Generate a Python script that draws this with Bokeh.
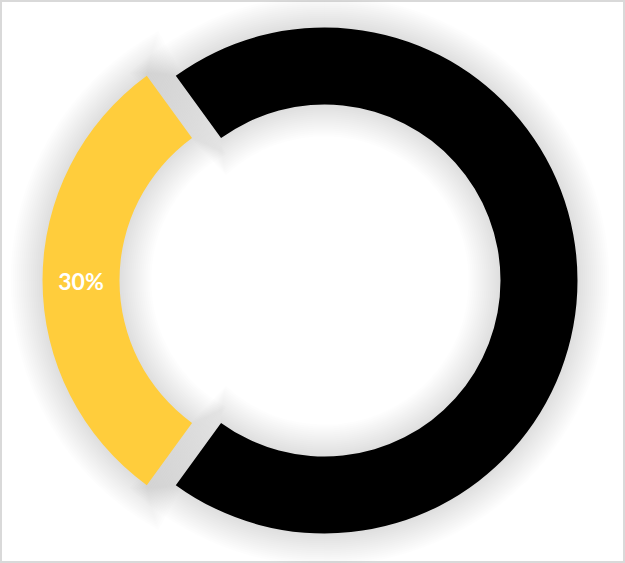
import numpy as np
from bokeh.plotting import figure
from bokeh.models import Range1d, ColumnDataSource
from bokeh.embed import file_html
from bokeh.resources import INLINE
from bokeh.core.properties import value

# data
labels = ["30%", "70%"]
values = [30, 70]
colors = ["#FFCD3C", "#000000"]
label_colors = ["#FFFFFF", None]

W, H = 625, 563
cx, cy = 309.5, 283.0
R_out, R_in = 253.0, 176.0
explode = 14.5

total = float(sum(values))
fracs = np.array(values) / total
start0 = np.pi - fracs[0] * np.pi  # first slice centred on the left
starts = start0 + 2 * np.pi * np.concatenate([[0], np.cumsum(fracs)[:-1]])
ends = starts + 2 * np.pi * fracs
mids = (starts + ends) / 2
xs = cx + explode * np.cos(mids)
ys = cy + explode * np.sin(mids)

p = figure(width=W, height=H, x_range=Range1d(0, W), y_range=Range1d(0, H),
           output_backend="svg", toolbar_location=None, min_border=0)
p.axis.visible = False
p.grid.visible = False
p.background_fill_color = "white"
p.border_fill_color = "white"
p.outline_line_color = "#d9d9d9"
p.outline_line_width = 3

# soft shadow layers
n_layers = 16
for i in range(n_layers, 0, -1):
    e = 2.0 * i
    d = e / R_out
    src = ColumnDataSource(dict(x=xs, y=ys, s=starts - d, e=ends + d))
    p.annular_wedge(x="x", y="y", inner_radius=R_in - e, outer_radius=R_out + e,
                    start_angle="s", end_angle="e", source=src,
                    fill_color="black", fill_alpha=0.008, line_color=None)

src = ColumnDataSource(dict(x=xs, y=ys, s=starts, e=ends, c=colors))
p.annular_wedge(x="x", y="y", inner_radius=R_in, outer_radius=R_out,
                start_angle="s", end_angle="e", fill_color="c", line_color=None,
                source=src)

rl = (R_out + R_in) / 2
for i, lab in enumerate(labels):
    if label_colors[i] is None:
        continue
    p.text(x=[xs[i] + rl * np.cos(mids[i])], y=[ys[i] + rl * np.sin(mids[i])],
           text=[lab], text_color=label_colors[i], text_font=value("Lato"),
           text_font_style="bold", text_font_size="23px",
           text_align="center", text_baseline="middle")

open("out.html", "w").write(file_html(p, INLINE))
